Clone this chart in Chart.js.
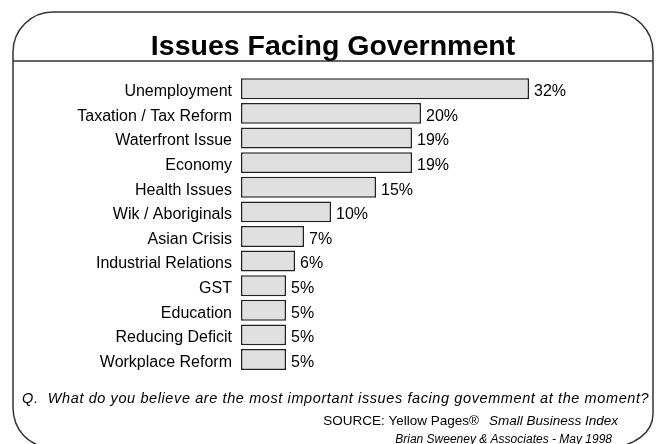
<!DOCTYPE html>
<html>
<head>
<meta charset="utf-8">
<title>Issues Facing Government</title>
<script src="https://cdn.jsdelivr.net/npm/chart.js@4"></script>
<style>
  body { margin: 0; background: #fff; }
  #wrap { position: relative; width: 658px; height: 444px; }
</style>
</head>
<body>
<div id="wrap"><canvas id="issuesChart" width="658" height="444"></canvas></div>
<script>
const categories = ['Unemployment', 'Taxation / Tax Reform', 'Waterfront Issue', 'Economy', 'Health Issues',
  'Wik / Aboriginals', 'Asian Crisis', 'Industrial Relations', 'GST', 'Education', 'Reducing Deficit', 'Workplace Reform'];
const shares = [32, 20, 19, 19, 15, 10, 7, 6, 5, 5, 5, 5];
const axisMax = 40;

const titleText = 'Issues Facing Government';
const questionText = 'Q.  What do you believe are the most important issues facing govemment at the moment?';
const sourceText = 'SOURCE: Yellow Pages\u00AE';
const indexText = 'Small Business Index';
const creditText = 'Brian Sweeney & Associates - May 1998';

const FONT = '"Liberation Sans", Arial, sans-serif';
const INK = '#000';
const LINE = '#333';

// frame, title and the notes at the bottom
const framePlugin = {
  id: 'frame',
  afterDraw(chart) {
    const c = chart.ctx;
    c.save();
    c.strokeStyle = LINE;
    c.lineWidth = 1.5;

    // rounded panel, bottom edge runs off the canvas
    c.beginPath();
    c.moveTo(13, 407);
    c.lineTo(13, 52);
    c.arcTo(13, 12, 53, 12, 40);
    c.lineTo(613, 12);
    c.arcTo(653, 12, 653, 52, 40);
    c.lineTo(653, 414);
    c.bezierCurveTo(653, 432, 636, 446, 606, 449);
    c.moveTo(13, 407);
    c.bezierCurveTo(13, 430, 28, 446, 53, 449);
    c.stroke();

    c.beginPath();
    c.moveTo(13, 61);
    c.lineTo(653, 61);
    c.stroke();

    c.fillStyle = INK;
    c.textBaseline = 'alphabetic';
    c.font = 'bold 28.5px ' + FONT;
    c.textAlign = 'center';
    c.fillText(titleText, 333, 55);

    c.textAlign = 'left';
    c.font = 'italic 14.5px ' + FONT;
    c.letterSpacing = '0.6px';
    c.fillText(questionText, 22, 403);
    c.letterSpacing = '0px';

    c.textAlign = 'right';
    c.font = 'italic 13.5px ' + FONT;
    const idxW = c.measureText(indexText).width;
    c.fillText(indexText, 618, 425);
    c.font = '13.5px ' + FONT;
    c.fillText(sourceText, 618 - idxW - 10, 425);
    c.font = 'italic 12px ' + FONT;
    c.fillText(creditText, 612, 443);
    c.restore();
  }
};

// percentage beside each bar
const valueLabels = {
  id: 'valueLabels',
  afterDatasetsDraw(chart) {
    const c = chart.ctx;
    const meta = chart.getDatasetMeta(0);
    c.save();
    c.fillStyle = INK;
    c.font = '16px ' + FONT;
    c.textAlign = 'left';
    c.textBaseline = 'middle';
    meta.data.forEach((bar, i) => {
      c.fillText(shares[i] + '%', bar.x + 5, bar.y + 3);
    });
    c.restore();
  }
};

new Chart(document.getElementById('issuesChart'), {
  type: 'bar',
  data: {
    labels: categories,
    datasets: [{
      data: shares,
      backgroundColor: '#e0e0e0',
      borderColor: '#222',
      borderWidth: 1.5,
      borderSkipped: false,
      barPercentage: 0.85,
      categoryPercentage: 1
    }]
  },
  options: {
    indexAxis: 'y',
    responsive: false,
    animation: false,
    layout: { padding: { left: 13, right: 57, top: 76.5, bottom: 72.2 } },
    plugins: {
      legend: { display: false },
      tooltip: { enabled: false }
    },
    scales: {
      x: { display: false, min: 0, max: axisMax },
      y: {
        grid: { display: false, drawTicks: false },
        border: { display: false },
        ticks: { color: INK, padding: 9, labelOffset: 3, font: { family: FONT, size: 16 } },
        afterFit(scale) { scale.width = 228; }
      }
    }
  },
  plugins: [framePlugin, valueLabels]
});
</script>
</body>
</html>
